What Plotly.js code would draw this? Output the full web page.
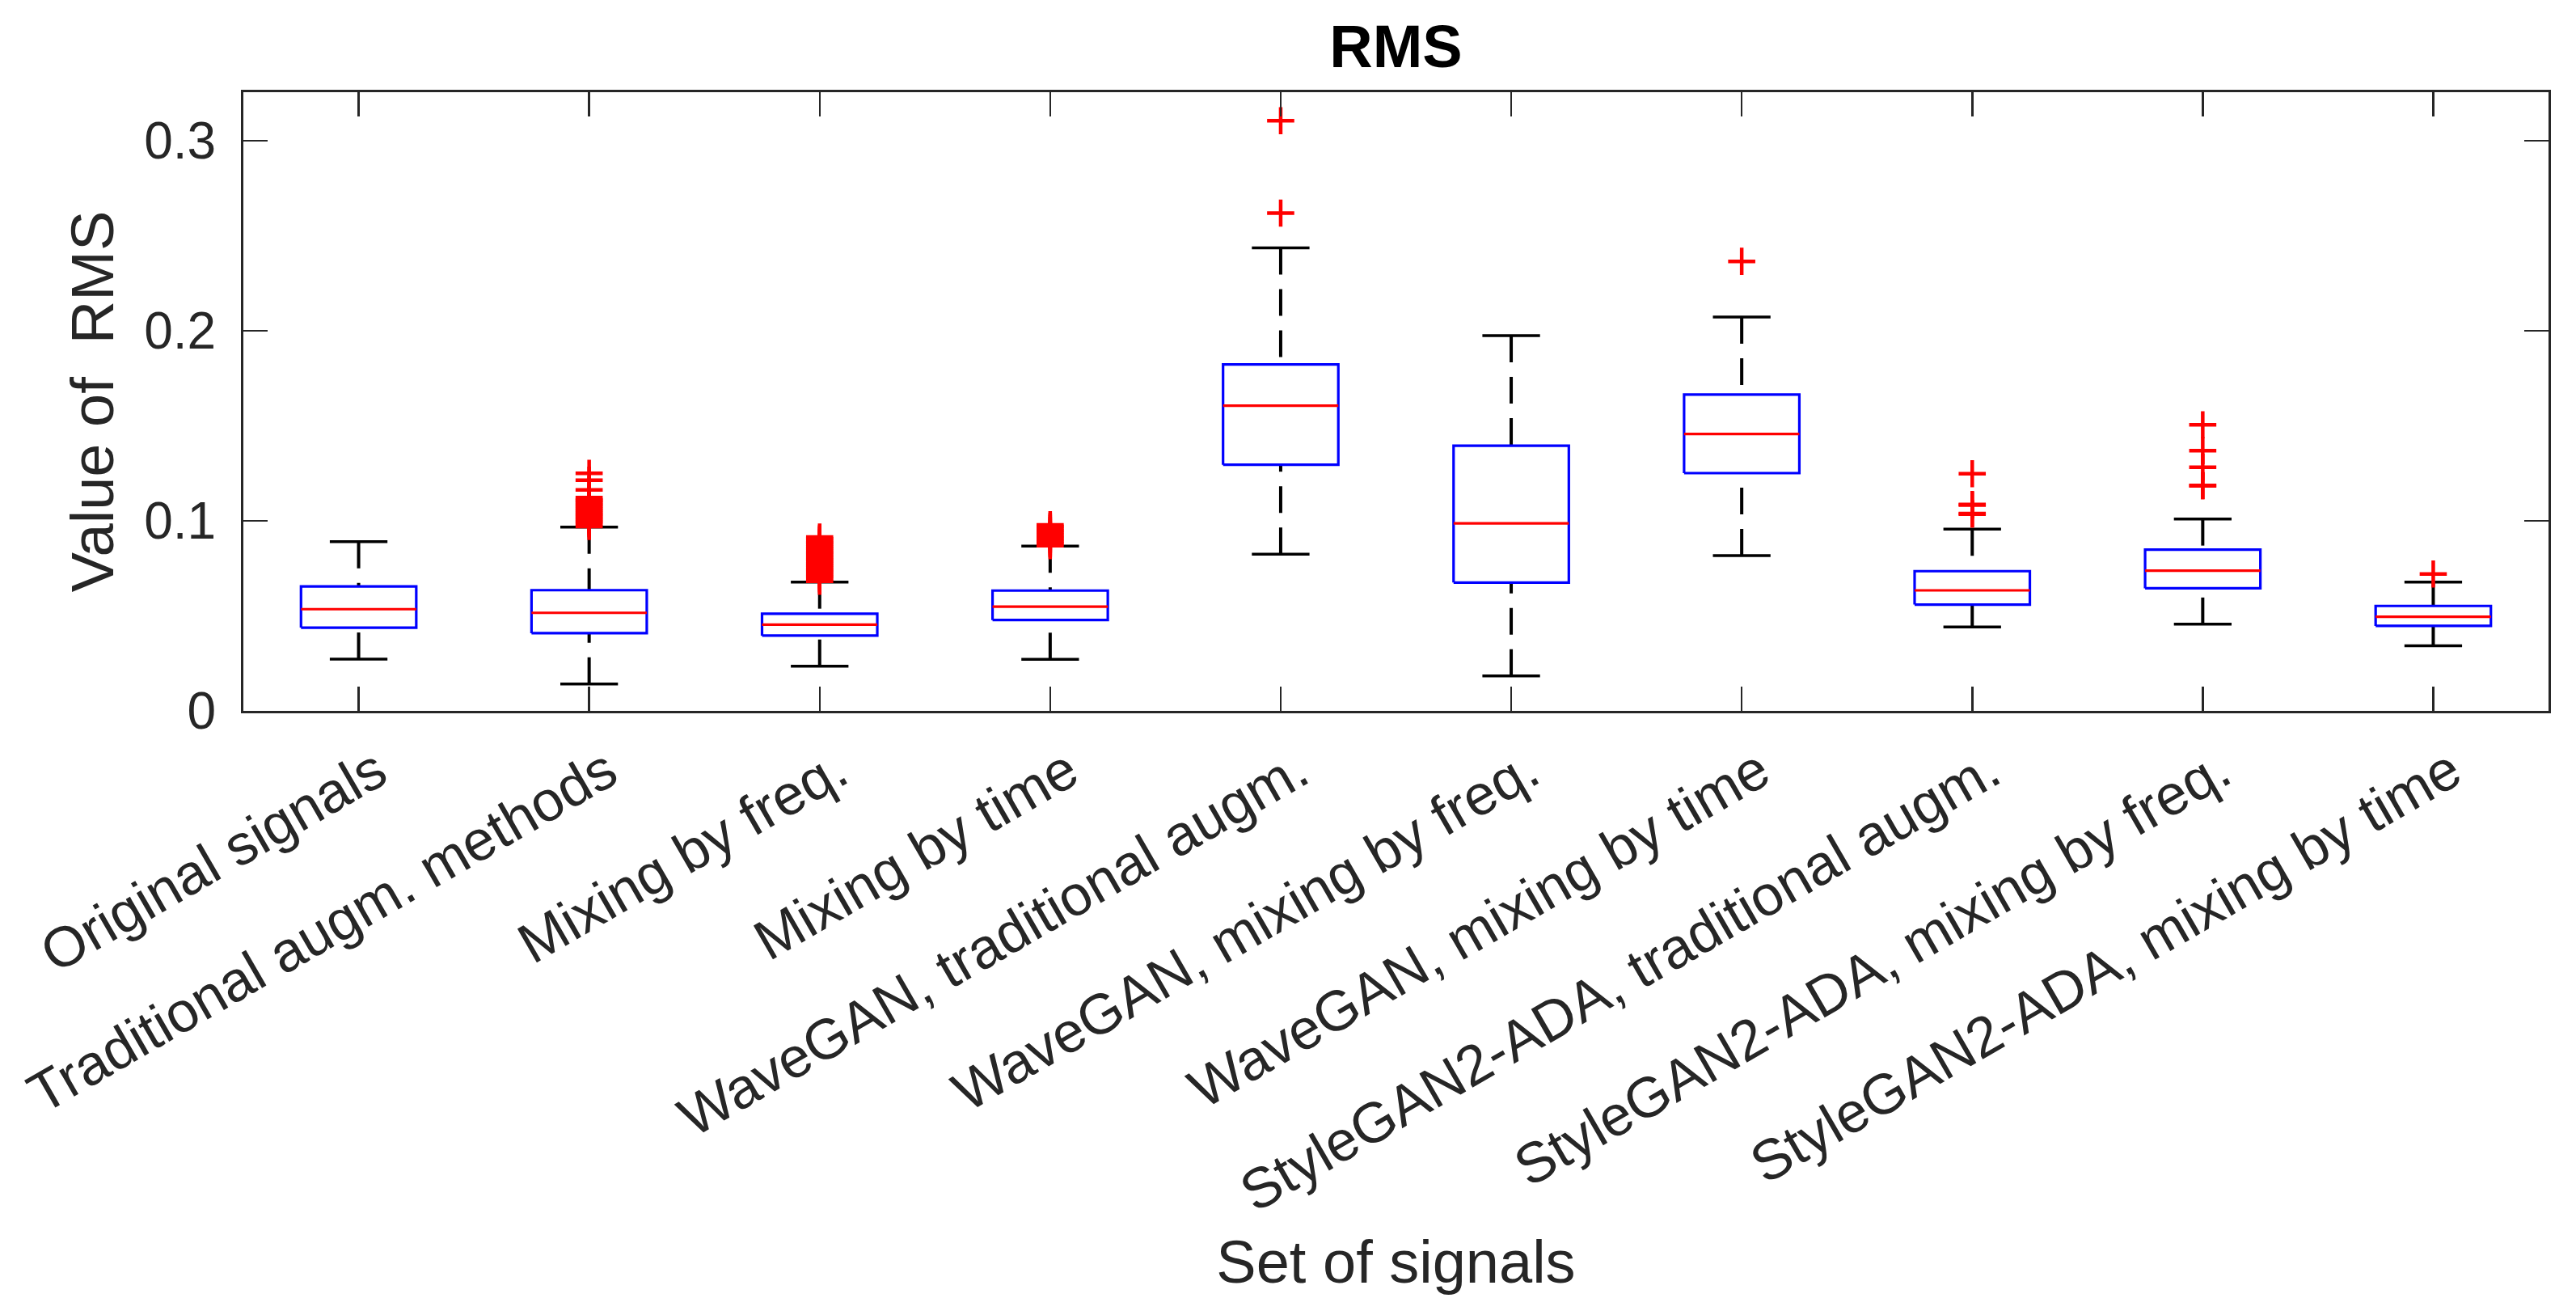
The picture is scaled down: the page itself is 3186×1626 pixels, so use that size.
<!DOCTYPE html>
<html>
<head>
<meta charset="utf-8">
<script src="https://cdn.plot.ly/plotly-3.0.1.min.js"></script>
<style>html,body{margin:0;padding:0;background:#fff;}#chart{width:3186px;height:1626px;}</style>
</head>
<body>
<div id="chart"></div>
<script>
// ---- data ----
const categories = [
  "Original signals",
  "Traditional augm. methods",
  "Mixing by freq.",
  "Mixing by time",
  "WaveGAN, traditional augm.",
  "WaveGAN, mixing by freq.",
  "WaveGAN, mixing by time",
  "StyleGAN2-ADA, traditional augm.",
  "StyleGAN2-ADA, mixing by freq.",
  "StyleGAN2-ADA, mixing by time"
];
const lowerWhisker = [0.0272, 0.0142, 0.0235, 0.0271, 0.0824, 0.0184, 0.0817, 0.0441, 0.0456, 0.0343];
const q1Values     = [0.0438, 0.0409, 0.0396, 0.0478, 0.1295, 0.0675, 0.1251, 0.0559, 0.0645, 0.0447];
const medianValues = [0.0535, 0.0516, 0.0454, 0.0548, 0.1606, 0.0987, 0.1457, 0.0634, 0.0738, 0.0495];
const q3Values     = [0.0655, 0.0635, 0.0511, 0.0633, 0.1823, 0.1395, 0.1664, 0.0735, 0.0848, 0.0552];
const upperWhisker = [0.0890, 0.0967, 0.0678, 0.0867, 0.2436, 0.1974, 0.2072, 0.0956, 0.1010, 0.0678];
const outlierValues = [
  [],
  [0.0970, 0.0985, 0.0995, 0.1005, 0.1015, 0.1025, 0.1035, 0.1045, 0.1055, 0.1065, 0.1075, 0.1085, 0.1095, 0.1105, 0.1110, 0.1122, 0.1163, 0.1214, 0.1250],
  [0.0682, 0.0695, 0.0705, 0.0715, 0.0725, 0.0735, 0.0745, 0.0755, 0.0765, 0.0775, 0.0785, 0.0795, 0.0805, 0.0815, 0.0825, 0.0835, 0.0845, 0.0855, 0.0865, 0.0875, 0.0885, 0.0895, 0.0905, 0.0915],
  [0.0869, 0.0880, 0.0890, 0.0900, 0.0910, 0.0920, 0.0930, 0.0940, 0.0950, 0.0960, 0.0970, 0.0979],
  [0.2619, 0.3105],
  [],
  [0.2365],
  [0.1035, 0.1038, 0.1083, 0.1086, 0.1248],
  [0.1184, 0.1186, 0.1282, 0.1369, 0.1505],
  [0.0720]
];
const yTickVals = [0, 0.1, 0.2, 0.3];
const yTickText = ["0", "0.1", "0.2", "0.3"];

// ---- build traces ----
const BOX_HALF = 0.25, CAP_HALF = 0.125;
const bx = [], by = [], mx = [], my = [], wx = [], wy = [], cx = [], cy = [], ox = [], oy = [];
categories.forEach((c, k) => {
  const p = k + 1;
  bx.push(p - BOX_HALF, p + BOX_HALF, p + BOX_HALF, p - BOX_HALF, p - BOX_HALF, null);
  by.push(q1Values[k], q1Values[k], q3Values[k], q3Values[k], q1Values[k], null);
  mx.push(p - BOX_HALF, p + BOX_HALF, null);
  my.push(medianValues[k], medianValues[k], null);
  wx.push(p, p, null, p, p, null);
  wy.push(upperWhisker[k], q3Values[k], null, lowerWhisker[k], q1Values[k], null);
  cx.push(p - CAP_HALF, p + CAP_HALF, null, p - CAP_HALF, p + CAP_HALF, null);
  cy.push(upperWhisker[k], upperWhisker[k], null, lowerWhisker[k], lowerWhisker[k], null);
  outlierValues[k].forEach(v => { ox.push(p); oy.push(v); });
});

const traces = [
  {x: wx, y: wy, mode: 'lines', line: {color: '#000000', width: 4, dash: '33px,18px'}, hoverinfo: 'skip'},
  {x: cx, y: cy, mode: 'lines', line: {color: '#000000', width: 3.5}, hoverinfo: 'skip'},
  {x: bx, y: by, mode: 'lines', line: {color: '#0000ff', width: 3.2}, hoverinfo: 'skip'},
  {x: mx, y: my, mode: 'lines', line: {color: '#ff0000', width: 3.2}, hoverinfo: 'skip'},
  {x: ox, y: oy, mode: 'markers', marker: {symbol: 'cross-thin', size: 24, color: '#ff0000', line: {color: '#ff0000', width: 4.5}}, hoverinfo: 'skip'}
];

const FONT = '"Liberation Sans", Arial, Helvetica, sans-serif';
const AX = '#262626';
const layout = {
  width: 3186, height: 1626,
  margin: {l: 301, r: 34, t: 114, b: 747, pad: 0},
  paper_bgcolor: '#ffffff', plot_bgcolor: '#ffffff',
  showlegend: false,
  font: {family: FONT, color: AX, size: 64},
  title: {text: '<b>RMS</b>', font: {family: FONT, size: 74, color: '#000000'}, x: 0.5, xref: 'paper', xanchor: 'center', y: 1 - 57/1626, yref: 'container', yanchor: 'middle'},
  xaxis: {
    range: [0.5, 10.5], tickmode: 'array', tickvals: categories.map((c, k) => k + 1), ticktext: categories,
    tickangle: -30, ticks: 'inside', ticklen: 30, tickwidth: 2.5, tickcolor: AX,
    showline: true, linecolor: AX, linewidth: 3, mirror: 'ticks', showgrid: false, zeroline: false,
    tickfont: {family: FONT, size: 70, color: AX}, ticklabelstandoff: 4, ticklabelshift: 22,
    ticklabeloverflow: 'allow',
    title: {text: 'Set of signals', font: {family: FONT, size: 74, color: AX}, standoff: 22}
  },
  yaxis: {
    range: [0, 0.3255], tickmode: 'array', tickvals: yTickVals, ticktext: yTickText,
    ticks: 'inside', ticklen: 30, tickwidth: 2.5, tickcolor: AX,
    showline: true, linecolor: AX, linewidth: 3, mirror: 'ticks', showgrid: false, zeroline: false,
    tickfont: {family: FONT, size: 64, color: AX}, ticklabelstandoff: 18,
    title: {text: 'Value of  RMS', font: {family: FONT, size: 74, color: AX}, standoff: 14}
  }
};

Plotly.newPlot('chart', traces, layout, {staticPlot: true, displayModeBar: false});
</script>
</body>
</html>
